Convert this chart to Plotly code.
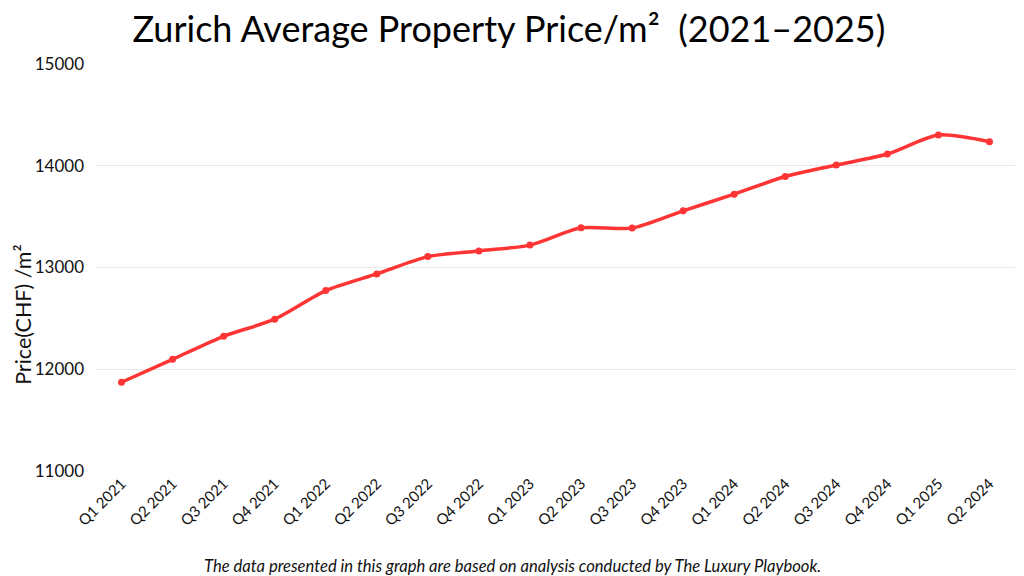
import plotly.graph_objects as go

# quarters shown on the x axis (label order as in the source chart)
quarters = [
    "Q1 2021", "Q2 2021", "Q3 2021", "Q4 2021",
    "Q1 2022", "Q2 2022", "Q3 2022", "Q4 2022",
    "Q1 2023", "Q2 2023", "Q3 2023", "Q4 2023",
    "Q1 2024", "Q2 2024", "Q3 2024", "Q4 2024",
    "Q1 2025", "Q2 2024",
]
# average price per m2 in CHF
price_chf = [
    11872, 12098, 12324, 12492,
    12773, 12937, 13107, 13163,
    13220, 13390, 13387, 13557,
    13721, 13894, 14007, 14115,
    14302, 14236,
]
y_ticks = [11000, 12000, 13000, 14000, 15000]

FONT = "Lato, Open Sans, sans-serif"
RED = "#ff3535"

x_idx = list(range(len(quarters)))

fig = go.Figure()
fig.add_trace(go.Scatter(
    x=x_idx,
    y=price_chf,
    mode="lines+markers",
    line=dict(color=RED, width=3.5, shape="spline", smoothing=0.7),
    marker=dict(color=RED, size=7),
    hoverinfo="x+y",
    showlegend=False,
))

# page body has an 8px margin, so the figure is 8px smaller than the window
fig.update_layout(
    width=1016,
    height=568,
    paper_bgcolor="white",
    plot_bgcolor="white",
    margin=dict(l=88, r=9, t=56, b=105, autoexpand=False),
    font=dict(family=FONT, color="#111111"),
    title=dict(
        text="Zurich Average Property Price/m²  (2021–2025)",
        x=0.493, xanchor="center", y=0.962, yanchor="middle",
        font=dict(family=FONT, size=36, color="#000000"),
    ),
    annotations=[
        dict(
            text="<i>The data presented in this graph are based on analysis conducted by The Luxury Playbook.</i>",
            xref="paper", yref="paper", x=0.453, y=-0.233,
            xanchor="center", yanchor="middle", showarrow=False,
            font=dict(family=FONT, size=16.6, color="#111111"),
        ),
        # y axis title sits below the plot centre in the source, so it's an annotation
        dict(
            text="Price(CHF) /m²", textangle=-90,
            xref="paper", yref="paper", x=-0.0795, y=0.386,
            xanchor="center", yanchor="middle", showarrow=False,
            font=dict(family=FONT, size=21.5, color="#111111"),
        ),
    ],
)

fig.update_xaxes(
    tickmode="array", tickvals=x_idx, ticktext=quarters,
    range=[-0.5, len(quarters) - 0.5],
    tickangle=-45, tickfont=dict(size=15, color="#111111"),
    showgrid=False, zeroline=False, showline=False, ticks="",
    automargin=False,
)
fig.update_yaxes(
    range=[11000, 15000], tickvals=y_ticks,
    ticktext=[str(v) for v in y_ticks],
    tickfont=dict(size=17, color="#111111"),
    showgrid=True, gridcolor="#e8e8e8", gridwidth=1,
    zeroline=False, showline=False, ticks="", ticklabelstandoff=11,
    automargin=False,
)

fig.write_html("out.html")
